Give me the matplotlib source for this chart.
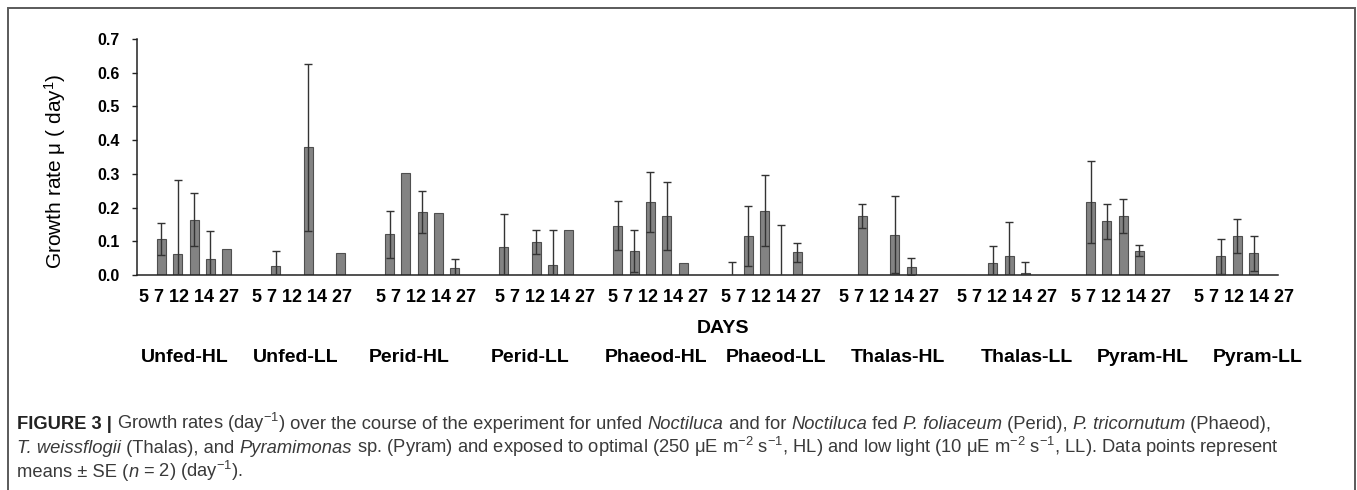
import numpy as np
import matplotlib
matplotlib.use('Agg')
import matplotlib.pyplot as plt
from matplotlib.patches import Rectangle

plt.rcParams['font.family'] = ['Liberation Sans', 'DejaVu Sans']
plt.rcParams['mathtext.fontset'] = 'custom'
plt.rcParams['mathtext.rm'] = 'Liberation Sans'
plt.rcParams['mathtext.it'] = 'Liberation Sans:italic'
plt.rcParams['mathtext.bf'] = 'Liberation Sans:bold'

# data
days = [5, 7, 12, 14, 27]
groups = ['Unfed-HL', 'Unfed-LL', 'Perid-HL', 'Perid-LL', 'Phaeod-HL',
          'Phaeod-LL', 'Thalas-HL', 'Thalas-LL', 'Pyram-HL', 'Pyram-LL']
unfed_hl = [0.106, 0.061, 0.164, 0.046, 0.078]
unfed_ll = [0.027, 0.0, 0.379, 0.0, 0.066]
perid_hl = [0.121, 0.304, 0.186, 0.185, 0.020]
perid_ll = [0.082, 0.0, 0.097, 0.031, 0.134]
phaeod_hl = [0.146, 0.071, 0.216, 0.175, 0.037]
phaeod_ll = [0.0, 0.116, 0.191, 0.0, 0.067]
thalas_hl = [0.0, 0.175, 0.0, 0.120, 0.025]
thalas_ll = [0.0, 0.0, 0.035, 0.056, 0.007]
pyram_hl = [0.0, 0.216, 0.160, 0.175, 0.072]
pyram_ll = [0.0, 0.0, 0.056, 0.116, 0.064]

se_unfed_hl = [0.047, 0.221, 0.078, 0.085, 0.0]
se_unfed_ll = [0.044, 0.0, 0.248, 0.0, 0.0]
se_perid_hl = [0.070, 0.0, 0.062, 0.0, 0.026]
se_perid_ll = [0.100, 0.0, 0.036, 0.103, 0.0]
se_phaeod_hl = [0.073, 0.063, 0.089, 0.100, 0.0]
se_phaeod_ll = [0.040, 0.088, 0.106, 0.148, 0.029]
se_thalas_hl = [0.0, 0.037, 0.0, 0.114, 0.025]
se_thalas_ll = [0.0, 0.0, 0.051, 0.100, 0.033]
se_pyram_hl = [0.0, 0.121, 0.052, 0.051, 0.017]
se_pyram_ll = [0.0, 0.0, 0.052, 0.051, 0.051]

werte = [unfed_hl, unfed_ll, perid_hl, perid_ll, phaeod_hl,
         phaeod_ll, thalas_hl, thalas_ll, pyram_hl, pyram_ll]
fouten = [se_unfed_hl, se_unfed_ll, se_perid_hl, se_perid_ll, se_phaeod_hl,
          se_phaeod_ll, se_thalas_hl, se_thalas_ll, se_pyram_hl, se_pyram_ll]

fig = plt.figure(figsize=(13.57, 4.90), dpi=100)
ax = fig.add_axes([137/1357, 1 - 275/490, 1141/1357, 236/490])

# bars, 7 slots per group (5 days + gaps)
for g in range(len(groups)):
    xs = [7*g + 1 + d for d in range(len(days))]
    ax.bar(xs, werte[g], width=0.55, color='#838383', edgecolor='#4f4f4f',
           linewidth=0.8, zorder=2)
    for x, v, e in zip(xs, werte[g], fouten[g]):
        if e > 0:
            ax.errorbar(x, v, yerr=e, fmt='none', ecolor='#333333',
                        elinewidth=1.0, capsize=2.6, capthick=1.0, zorder=3)

ax.set_xlim(-0.5, 69.5)
ax.set_ylim(0, 0.7)
ax.set_yticks(np.arange(0, 0.71, 0.1))
ax.set_yticklabels(['%.1f' % t for t in np.arange(0, 0.71, 0.1)],
                   fontsize=11.5, fontweight='bold')
ax.tick_params(axis='y', direction='out', length=3.5, width=1, pad=9,
               color='#222222')
for s in ['top', 'right']:
    ax.spines[s].set_visible(False)
for s in ['left', 'bottom']:
    ax.spines[s].set_linewidth(1.1)
    ax.spines[s].set_color('#222222')

# day labels per group
dag_pos = [2.72, 9.65, 17.23, 24.51, 31.45, 38.40, 45.64, 52.88, 59.86, 67.42]
dag_txt = ' '.join(str(d) for d in days)
ax.set_xticks(dag_pos)
ax.set_xticklabels([dag_txt] * len(dag_pos), fontsize=13, fontweight='bold')
ax.tick_params(axis='x', length=0, pad=10)

ax.set_ylabel('Growth rate μ ( day$^{1}$)', fontsize=15)
ax.yaxis.set_label_coords(-0.0605, 0.4407)

# DAYS and group names
fig.text(723.5/1357, 1 - 333/490, 'DAYS', fontsize=14, fontweight='bold',
         ha='center', va='baseline')
groep_px = [184.5, 295.7, 408.7, 530, 655.7, 776, 898, 1027, 1142.6, 1258]
for naam, px in zip(groups, groep_px):
    fig.text(px/1357, 1 - 362/490, naam, fontsize=14, fontweight='bold',
             ha='center', va='baseline')

# frame and caption
fig.patches.append(Rectangle((8/1357, -0.1), 1347/1357, 1.1 - 8/490,
                             transform=fig.transFigure, fill=False,
                             edgecolor='#5a5a5a', linewidth=1.4))

renderer = fig.canvas.get_renderer()


def regel(x_px, y_px, stukken, fs=13.2):
    for tekst, stijl in stukken:
        kw = dict(fontsize=fs, color='#3a3a3a', va='baseline')
        if stijl == 'b':
            kw.update(fontweight='bold', color='#222222')
        elif stijl == 'i':
            kw.update(style='italic')
        t = fig.text(x_px/1357, 1 - y_px/490, tekst, **kw)
        x_px = t.get_window_extent(renderer).x1


regel(17, 428.5, [('FIGURE 3 |', 'b'), (r' Growth rates (day$^{-1}$)', ''),
                  (' over the course of the experiment for unfed ', ''),
                  ('Noctiluca', 'i'), (' and for ', ''), ('Noctiluca', 'i'),
                  (' fed ', ''), ('P. foliaceum', 'i'), (' (Perid), ', ''),
                  ('P. tricornutum', 'i'), (' (Phaeod),', '')])
regel(17, 452.5, [('T. weissflogii', 'i'), (' (Thalas), and ', ''),
                  ('Pyramimonas', 'i'),
                  (r' sp. (Pyram) and exposed to optimal (250 μE m$^{-2}$ s$^{-1}$, HL) '
                   r'and low light (10 μE m$^{-2}$ s$^{-1}$, LL). Data points represent', '')])
regel(17, 476.5, [('means ± SE (', ''), ('n', 'i'), (r' = 2) (day$^{-1}$).', '')])

plt.savefig('out.png', dpi=100)
